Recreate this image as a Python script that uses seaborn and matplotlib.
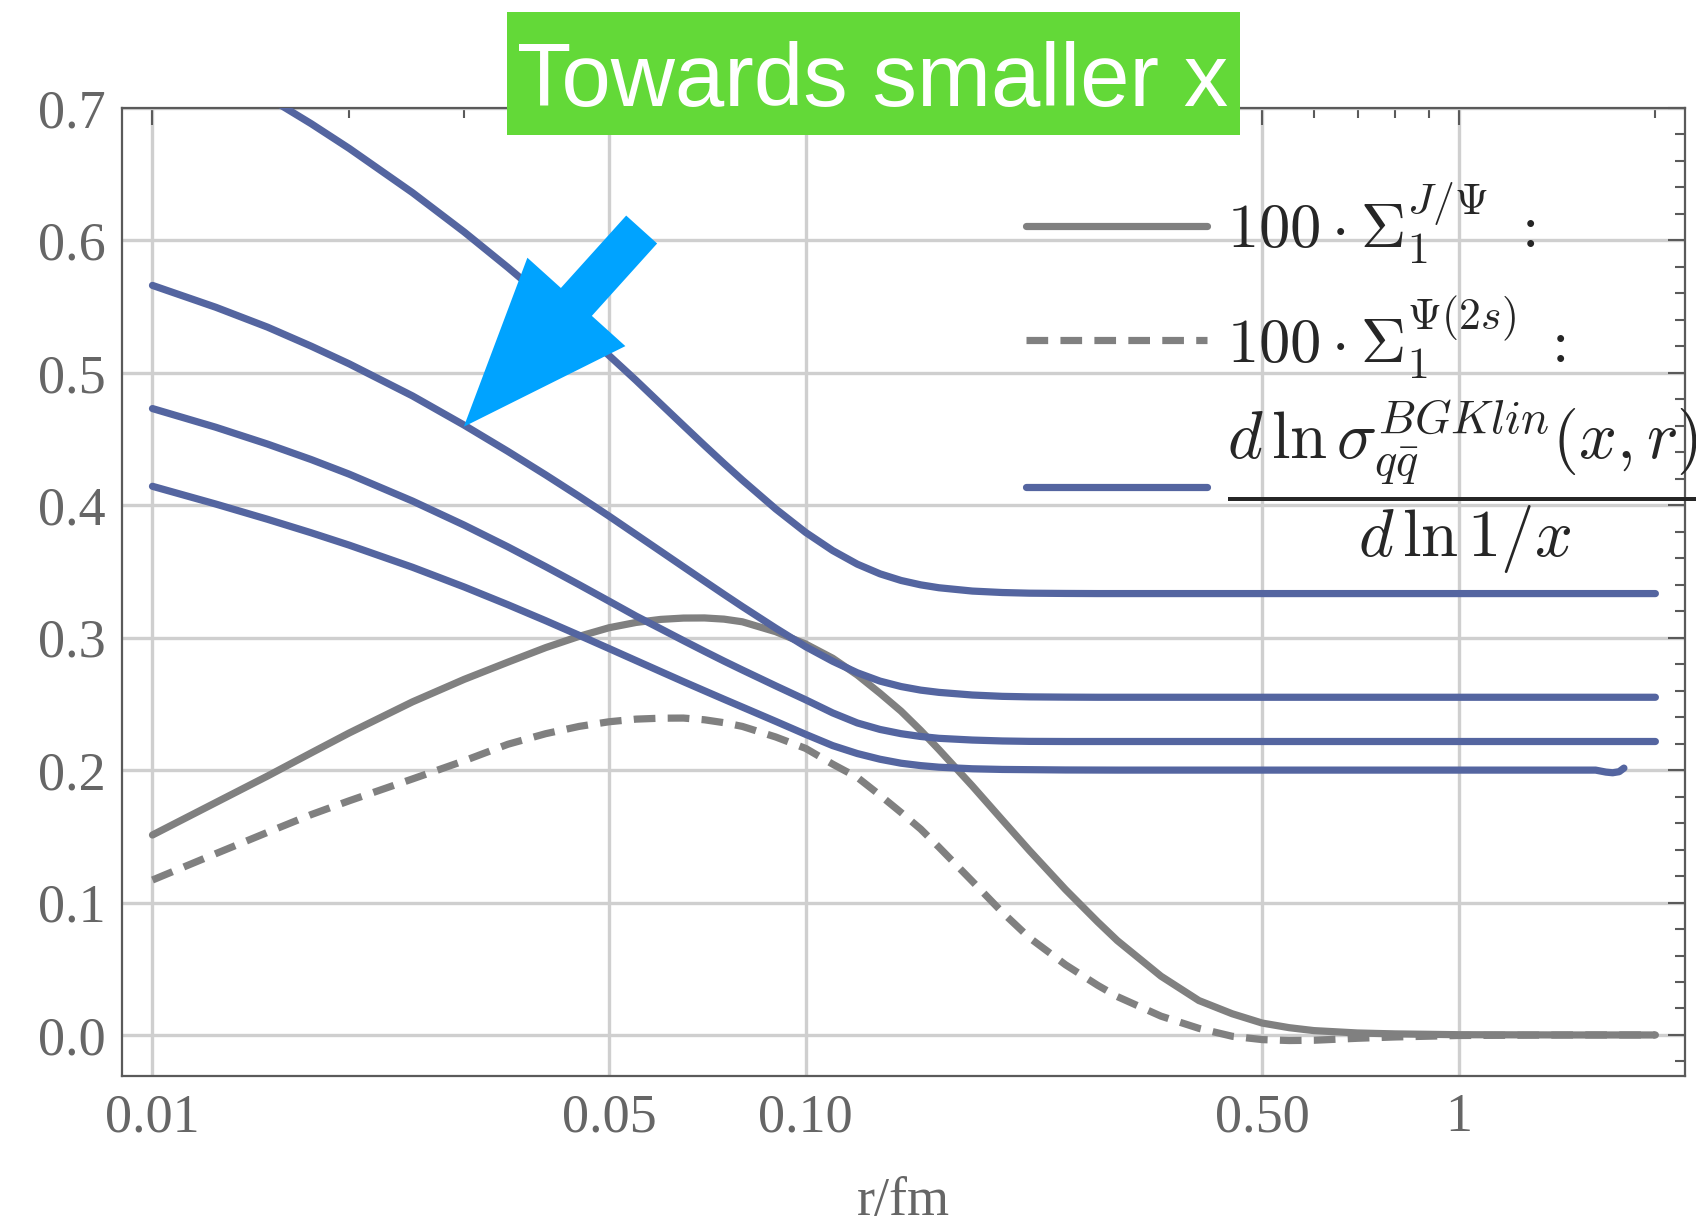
import numpy as np
import pandas as pd
import matplotlib
matplotlib.use("Agg")
import matplotlib.pyplot as plt
import seaborn as sns
from matplotlib.patches import Rectangle
from matplotlib.ticker import FixedLocator, NullFormatter, MultipleLocator

# dipole size r (fm)
r_fm = [0.01, 0.0125, 0.015, 0.0175, 0.02, 0.025, 0.03, 0.035, 0.04, 0.045,
        0.05, 0.055, 0.06, 0.065, 0.07, 0.075, 0.08, 0.09, 0.1, 0.11,
        0.12, 0.13, 0.14, 0.15, 0.16, 0.18, 0.2, 0.22, 0.25, 0.28,
        0.3, 0.35, 0.4, 0.45, 0.5, 0.55, 0.6, 0.7, 0.8, 1.0, 1.5, 2.0]

# 100 * Sigma_1 for J/Psi and Psi(2s)
sigma_jpsi = [0.151, 0.1755, 0.1955, 0.213, 0.228, 0.2515, 0.2685, 0.2815, 0.2925, 0.301,
              0.3075, 0.3115, 0.3138, 0.3148, 0.3149, 0.314, 0.312, 0.3045, 0.2952, 0.2845,
              0.2718, 0.258, 0.2445, 0.230, 0.2155, 0.188, 0.1624, 0.1394, 0.1098, 0.0854,
              0.0713, 0.0444, 0.026, 0.016, 0.009, 0.0055, 0.0033, 0.0015, 0.0008, 0.0002, 0.0, 0.0]

sigma_psi2s = [0.117, 0.1369, 0.153, 0.1664, 0.1768, 0.1933, 0.207, 0.2195, 0.2275, 0.233,
               0.2365, 0.2385, 0.2392, 0.2393, 0.238, 0.2358, 0.233, 0.225, 0.2164, 0.2045,
               0.1945, 0.181, 0.168, 0.1555, 0.1418, 0.116, 0.0927, 0.0735, 0.053, 0.0375,
               0.029, 0.0142, 0.005, -0.001, -0.0035, -0.0042, -0.004, -0.0025, -0.0015, -0.0004, 0.0, 0.0]

# d ln sigma_qq / d ln 1/x for four values of x (smallest x on top)
slope_x1 = [0.757, 0.7308, 0.7082, 0.6881, 0.6695, 0.6361, 0.6064, 0.5796, 0.5555, 0.5335,
            0.5131, 0.4943, 0.4765, 0.4602, 0.4452, 0.4315, 0.419, 0.3972, 0.3795, 0.3658,
            0.3555, 0.3482, 0.3432, 0.3399, 0.3377, 0.3352, 0.3341, 0.3336, 0.3334, 0.3333,
            0.3333, 0.3333, 0.3333, 0.3333, 0.3333, 0.3333, 0.3333, 0.3333, 0.3333, 0.3333, 0.3333, 0.3333]

slope_x2 = [0.566, 0.5495, 0.5345, 0.5201, 0.5068, 0.4826, 0.4605, 0.4407, 0.4229, 0.4067,
            0.3918, 0.3779, 0.3652, 0.3535, 0.3427, 0.3327, 0.3235, 0.3072, 0.2932, 0.2822,
            0.2735, 0.2672, 0.2631, 0.2604, 0.2587, 0.2567, 0.2557, 0.2553, 0.2551, 0.255,
            0.255, 0.255, 0.255, 0.255, 0.255, 0.255, 0.255, 0.255, 0.255, 0.255, 0.255, 0.255]

slope_x3 = [0.473, 0.4589, 0.4462, 0.4345, 0.4235, 0.4032, 0.385, 0.3686, 0.3536, 0.340,
            0.3276, 0.3163, 0.3067, 0.2978, 0.2897, 0.2823, 0.2756, 0.2636, 0.2531, 0.2432,
            0.2356, 0.2307, 0.2275, 0.2254, 0.224, 0.2227, 0.222, 0.2217, 0.2216, 0.2216,
            0.2216, 0.2216, 0.2216, 0.2216, 0.2216, 0.2216, 0.2216, 0.2216, 0.2216, 0.2216, 0.2216, 0.2216]

r_fm_x4 = [0.01, 0.0125, 0.015, 0.0175, 0.02, 0.025, 0.03, 0.035, 0.04, 0.045,
           0.05, 0.055, 0.06, 0.065, 0.07, 0.075, 0.08, 0.09, 0.1, 0.11,
           0.12, 0.13, 0.14, 0.15, 0.16, 0.18, 0.2, 0.25, 0.3, 0.5,
           1.0, 1.5, 1.62, 1.68, 1.72, 1.76, 1.79]
slope_x4 = [0.4143, 0.4009, 0.3894, 0.3792, 0.3699, 0.3532, 0.3383, 0.3249, 0.3128, 0.3018,
            0.2918, 0.2827, 0.2744, 0.2668, 0.2599, 0.2535, 0.2476, 0.2368, 0.227, 0.2185,
            0.2125, 0.2082, 0.2052, 0.2034, 0.2022, 0.201, 0.2005, 0.2001, 0.200, 0.200,
            0.200, 0.200, 0.200, 0.1985, 0.198, 0.1988, 0.2015]

x_major = [0.01, 0.05, 0.1, 0.5, 1]
x_major_labels = ["0.01", "0.05", "0.10", "0.50", "1"]
x_minor = [0.02, 0.03, 0.04, 0.06, 0.07, 0.08, 0.09,
           0.2, 0.3, 0.4, 0.6, 0.7, 0.8, 0.9, 2.0]
y_major = [0.0, 0.1, 0.2, 0.3, 0.4, 0.5, 0.6, 0.7]
y_major_labels = ["0.0", "0.1", "0.2", "0.3", "0.4", "0.5", "0.6", "0.7"]

label_jpsi = r"$100\cdot\Sigma_1^{J/\Psi}\ :$"
label_psi2s = r"$100\cdot\Sigma_1^{\Psi(2s)}\ :$"
label_slope = r"$\dfrac{d\,\ln\sigma_{q\bar{q}}^{BGKlin}(x,r)}{d\,\ln 1/x}$"
title_text = "Towards smaller x"

GRAY = "#808080"
BLUE = "#5465A0"
AXC = "#5a5a5a"
LW = 5.2

sns.set_style("white")
plt.rcParams["font.family"] = ["Liberation Serif", "DejaVu Serif"]
plt.rcParams["mathtext.fontset"] = "cm"

fig = plt.figure(figsize=(16.96, 12.24), dpi=100)
ax = fig.add_axes([0.0721, 0.1209, 0.9214, 0.7909])

df_g = pd.DataFrame({"r": r_fm, "jpsi": sigma_jpsi, "psi2s": sigma_psi2s,
                     "s1": slope_x1, "s2": slope_x2, "s3": slope_x3})
df_4 = pd.DataFrame({"r": r_fm_x4, "s4": slope_x4})

sns.lineplot(data=df_g, x="r", y="jpsi", ax=ax, color=GRAY, lw=LW, sort=False,
             label=label_jpsi, zorder=3)
sns.lineplot(data=df_g, x="r", y="psi2s", ax=ax, color=GRAY, lw=LW, sort=False,
             linestyle=(0, (3.0, 1.7)), label=label_psi2s, zorder=3)
sns.lineplot(data=df_g, x="r", y="s1", ax=ax, color=BLUE, lw=LW, sort=False,
             label=label_slope, zorder=3)
for col in ["s2", "s3"]:
    sns.lineplot(data=df_g, x="r", y=col, ax=ax, color=BLUE, lw=LW, sort=False,
                 legend=False, zorder=3)
sns.lineplot(data=df_4, x="r", y="s4", ax=ax, color=BLUE, lw=LW, sort=False,
             legend=False, zorder=3)

ax.set_xscale("log")
ax.set_xlim(0.00899, 2.22)
ax.set_ylim(-0.031, 0.70)
ax.xaxis.set_major_locator(FixedLocator(x_major))
ax.set_xticklabels(x_major_labels)
ax.xaxis.set_minor_locator(FixedLocator(x_minor))
ax.xaxis.set_minor_formatter(NullFormatter())
ax.yaxis.set_major_locator(FixedLocator(y_major))
ax.set_yticklabels(y_major_labels)
ax.yaxis.set_minor_locator(MultipleLocator(0.02))

ax.grid(True, which="major", color="#cfcfcf", lw=2.4)
ax.set_axisbelow(True)
for sp in ax.spines.values():
    sp.set_color(AXC)
    sp.set_linewidth(1.6)
ax.tick_params(which="both", direction="in", top=True, right=True,
               color=AXC, width=1.5, labelcolor="#666666", labelsize=39, pad=12)
ax.tick_params(which="major", length=12)
ax.tick_params(which="minor", length=7)
ax.set_xlabel("r/fm", fontsize=39, color="#666666", labelpad=24)
ax.set_ylabel("")

handles, labels = ax.get_legend_handles_labels()
leg_sigma = ax.legend(handles[:2], labels[:2], loc="upper left",
                      bbox_to_anchor=(0.6047, 0.853), bbox_transform=fig.transFigure,
                      frameon=False, fontsize=45, handlelength=2.9,
                      handletextpad=0.32, labelspacing=0.45,
                      borderpad=0, borderaxespad=0)
ax.add_artist(leg_sigma)
ax.legend(handles[2:], labels[2:], loc="center left",
          bbox_to_anchor=(0.6047, 0.6024), bbox_transform=fig.transFigure,
          frameon=False, fontsize=48, handlelength=2.9 * 45 / 48,
          handletextpad=0.32 * 45 / 48, borderpad=0, borderaxespad=0)

# arrow pointing towards smaller x
ax.annotate("", xy=(0.02997, 0.4593), xytext=(0.0561, 0.6082),
            arrowprops=dict(arrowstyle="simple,head_length=121,head_width=95,tail_width=30",
                            mutation_scale=1, fc="#00A3FF", ec="none",
                            shrinkA=0, shrinkB=0),
            annotation_clip=False, zorder=6)

fig.patches.append(Rectangle((0.2989, 0.8897), 0.4322, 0.1005,
                             transform=fig.transFigure, facecolor="#63D938",
                             edgecolor="none", zorder=10))
fig.text(0.5145, 0.9134, title_text, ha="center", va="baseline", color="white",
         fontsize=64, family=["Liberation Sans", "DejaVu Sans"], zorder=11)

fig.savefig("out.png", dpi=100)
